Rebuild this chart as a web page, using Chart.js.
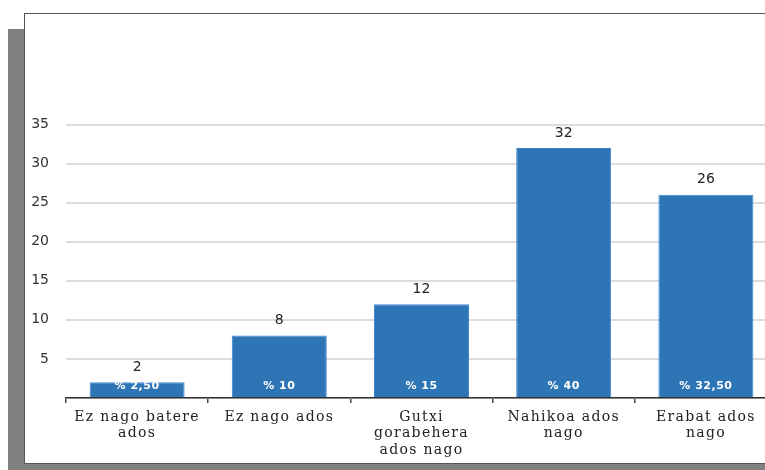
<!DOCTYPE html>
<html>
<head>
<meta charset="utf-8">
<script src="https://cdn.jsdelivr.net/npm/chart.js@4"></script>
<style>
  html, body { margin:0; padding:0; width:765px; height:470px; overflow:hidden; background:#fff; }
  #shadow { position:absolute; left:8px; top:29px; width:1000px; height:460px; background:#808080; }
  #box { position:absolute; left:24px; top:13px; width:1000px; height:449px; background:#fff; border:1px solid #555; }
  #wrap { position:absolute; left:0; top:0; width:790px; height:470px; }
</style>
</head>
<body>
<div id="shadow"></div>
<div id="box"></div>
<div id="wrap"><canvas id="c" width="790" height="470"></canvas></div>
<script>
const categories = [
  ["Ez nago batere", "ados"],
  ["Ez nago ados"],
  ["Gutxi", "gorabehera", "ados nago"],
  ["Nahikoa ados", "nago"],
  ["Erabat ados", "nago"]
];
const counts = [2, 8, 12, 32, 26];
const percents = ["% 2,50", "% 10", "% 15", "% 40", "% 32,50"];
const yMax = 35;
const yStep = 5;

const labelPlugin = {
  id: 'labels',
  afterDraw(chart) {
    const ctx = chart.ctx;
    const meta = chart.getDatasetMeta(0);
    const xs = chart.scales.x;
    ctx.save();
    meta.data.forEach((bar, i) => {
      // value above bar
      ctx.fillStyle = '#222';
      ctx.font = '14px "DejaVu Sans"';
      ctx.textAlign = 'center';
      ctx.textBaseline = 'middle';
      ctx.letterSpacing = '0px';
      ctx.fillText(String(counts[i]), bar.x, bar.y - 15);
      // percent inside bar
      ctx.fillStyle = '#fff';
      ctx.font = 'bold 11px "DejaVu Sans"';
      ctx.letterSpacing = '0.5px';
      ctx.fillText(percents[i], bar.x, bar.base - 11);
    });
    // x category labels
    ctx.fillStyle = '#222';
    ctx.font = '14px "DejaVu Serif"';
    ctx.letterSpacing = '1.3px';
    ctx.textAlign = 'center';
    ctx.textBaseline = 'middle';
    categories.forEach((lines, i) => {
      const x = xs.getPixelForValue(i);
      lines.forEach((ln, j) => {
        ctx.fillText(ln, x, xs.top + 19 + j * 16.5);
      });
    });
    ctx.restore();
  }
};

new Chart(document.getElementById('c'), {
  type: 'bar',
  data: {
    labels: categories.map(l => l.join(' ')),
    datasets: [{
      data: counts,
      backgroundColor: '#2e75b6',
      borderColor: '#3d86d4',
      borderWidth: 1,
      categoryPercentage: 1,
      barPercentage: 0.668
    }]
  },
  options: {
    responsive: false,
    animation: false,
    devicePixelRatio: 1,
    layout: { padding: { left: 0, right: 13, top: 124.5, bottom: 0 } },
    plugins: { legend: { display: false }, tooltip: { enabled: false } },
    scales: {
      x: {
        grid: { drawOnChartArea: false, drawTicks: true, tickLength: 5, offset: true, color: '#444', lineWidth: 1.5 },
        border: { display: true, color: '#333', width: 1.5 },
        ticks: { display: false },
        afterFit(s) { s.height = 72; }
      },
      y: {
        min: 0, max: yMax,
        grid: { drawTicks: false, color: '#dcdcdc', lineWidth: 2 },
        border: { display: false },
        ticks: {
          stepSize: yStep,
          padding: 17,
          color: '#333',
          font: { family: 'DejaVu Sans', size: 14 },
          callback: v => v === 0 ? '' : v
        },
        afterFit(s) { s.width = 66; }
      }
    }
  },
  plugins: [labelPlugin]
});
</script>
</body>
</html>
